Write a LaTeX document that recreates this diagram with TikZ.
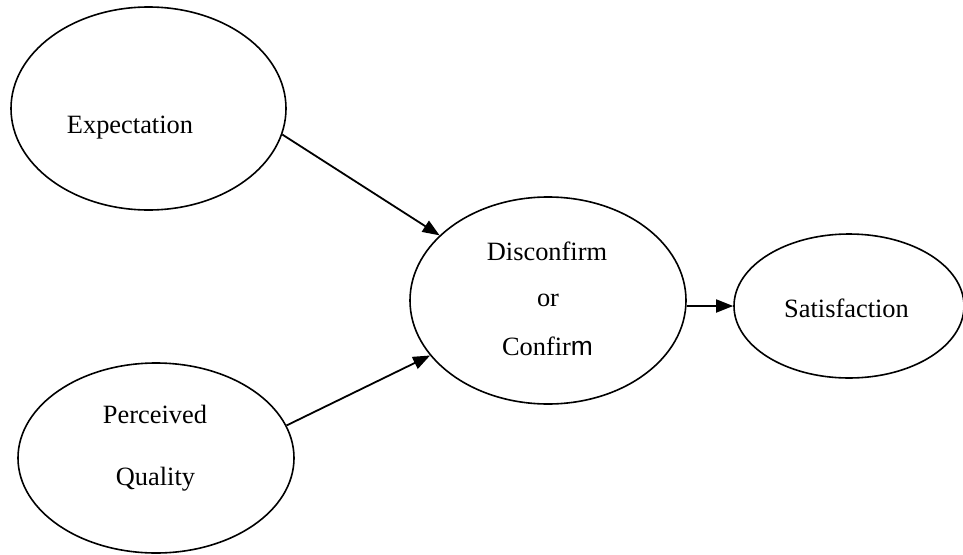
\documentclass[tikz,border=0pt]{standalone}
\usepackage{fontspec}
\setmainfont{Liberation Serif}
\newfontfamily\arialfont{Liberation Sans}
\usetikzlibrary{shapes.geometric,arrows.meta}
\begin{document}
\begin{tikzpicture}[x=1pt,y=-1pt,
  oval/.style={ellipse,draw,line width=1.6pt,inner sep=0pt},
  lbl/.style={anchor=base,inner sep=0pt,font=\fontsize{26.4}{30}\selectfont},
  conn/.style={line width=1.8pt,-{Triangle[length=17pt,width=13pt]}}]
\useasboundingbox (0,0) rectangle (963,554);
\node[oval,minimum width=275pt,minimum height=203pt] (exp) at (148.5,108.5) {};
\node[oval,minimum width=276pt,minimum height=190pt] (per) at (156,458) {};
\node[oval,minimum width=276pt,minimum height=207pt] (dis) at (548,300.5) {};
\node[oval,minimum width=230pt,minimum height=144pt] (sat) at (849,306) {};
\node[lbl] (t1) at (130,133) {Expectation};
\node[lbl] (t2) at (155,423) {Perceived};
\node[lbl] (t3) at (155.5,485) {Quality};
\node[lbl] (t4) at (547,260) {Disconfirm};
\node[lbl] (t5) at (548,306) {or};
\node[lbl] (t6) at (547.5,355) {Confir{\arialfont m}};
\node[lbl] (t7) at (846.5,317) {Satisfaction};
\draw[conn] (exp.-11.8) -- (dis.149.1);
\draw[conn] (per.14.2) -- (dis.205.7);
\draw[conn] (sat.west -| dis.east) -- (sat.west);
\end{tikzpicture}
\end{document}
